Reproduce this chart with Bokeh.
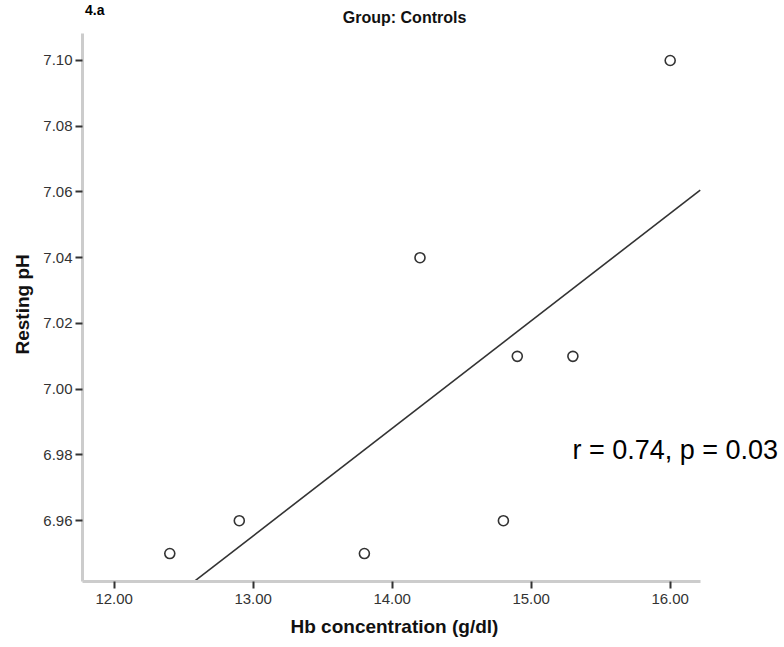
import numpy as np
from bokeh.plotting import figure
from bokeh.models import FixedTicker, NumeralTickFormatter, Label, Range1d, ColumnDataSource, Title
from bokeh.embed import file_html
from bokeh.resources import INLINE

# ---- data ----
hb = [12.4, 12.9, 13.8, 14.2, 14.8, 14.9, 15.3, 16.0]
ph = [6.95, 6.96, 6.95, 7.04, 6.96, 7.01, 7.01, 7.10]
x_ticks = [12, 13, 14, 15, 16]
y_ticks = [6.96, 6.98, 7.00, 7.02, 7.04, 7.06, 7.08, 7.10]
title_text = "Group: Controls"
panel_text = "4.a"
x_label = "Hb concentration (g/dl)"
y_label = "Resting pH"
stat_text = "r = 0.74, p = 0.03"

# axis extents (the drawn axes) and the wider view that leaves room for texts
x_axis_lo, x_axis_hi = 11.772, 16.216
y_axis_lo, y_axis_hi = 6.9415, 7.1083
x_view_hi = 16.8224
y_view_hi = 7.11825

FONT = "Liberation Sans"

p = figure(width=784, height=647, output_backend="svg", toolbar_location=None,
           x_range=Range1d(x_axis_lo, x_view_hi), y_range=Range1d(y_axis_lo, y_view_hi),
           min_border_left=82, min_border_right=0, min_border_top=0, min_border_bottom=66)
p.outline_line_color = None
p.grid.visible = False
p.background_fill_color = "white"
p.border_fill_color = "white"

# regression line (least squares from data), across the x-axis extent
slope, intercept = np.polyfit(hb, ph, 1)
fx = [x_axis_lo, x_axis_hi]
fy = [intercept + slope * v for v in fx]
p.line(fx, fy, line_color="#333333", line_width=1.6)

src = ColumnDataSource(dict(x=hb, y=ph))
p.scatter("x", "y", source=src, marker="circle", size=10, fill_color="white",
          line_color="#333333", line_width=1.6)

for ax, ticks in ((p.xaxis[0], x_ticks), (p.yaxis[0], y_ticks)):
    ax.ticker = FixedTicker(ticks=ticks)
    ax.formatter = NumeralTickFormatter(format="0.00")
    ax.minor_tick_line_color = None
    ax.major_tick_out = 7
    ax.major_tick_in = 0
    ax.major_tick_line_color = "#333333"
    ax.major_tick_line_width = 2
    ax.axis_line_color = "#cccccc"
    ax.axis_line_width = 3
    ax.major_label_text_font = FONT
    ax.major_label_text_font_size = "15px"
    ax.major_label_text_color = "#333333"

p.xaxis.bounds = (x_axis_lo, x_axis_hi)
p.yaxis.bounds = (y_axis_lo, y_axis_hi)
p.xaxis.major_label_standoff = 5
p.yaxis.major_label_standoff = 3

# axis titles, placed beside the axes and centred on the drawn axis extents
p.add_layout(Title(text=x_label, align="left", offset=208, standoff=14,
                   text_font=FONT, text_font_size="19px", text_font_style="bold",
                   text_color="#111111"), "below")
p.add_layout(Title(text=y_label, align="left", offset=227, standoff=16,
                   text_font=FONT, text_font_size="19px", text_font_style="bold",
                   text_color="#111111"), "left")

# chart title
p.add_layout(Label(x=14.089, y=7.1131, text=title_text, text_font=FONT,
                   text_font_size="16px", text_font_style="bold", text_align="center",
                   text_baseline="middle", text_color="#111111"))
# panel tag at top-left
p.add_layout(Label(x=11.79, y=y_view_hi, text=panel_text, text_font=FONT,
                   text_font_size="14px", text_font_style="bold", text_align="left",
                   text_baseline="top", text_color="#000000", y_offset=-1))
# statistics annotation
p.add_layout(Label(x=15.297, y=6.9814, text=stat_text, text_font=FONT,
                   text_font_size="27px", text_align="left",
                   text_baseline="middle", text_color="#000000"))

open("out.html", "w").write(file_html(p, INLINE))
